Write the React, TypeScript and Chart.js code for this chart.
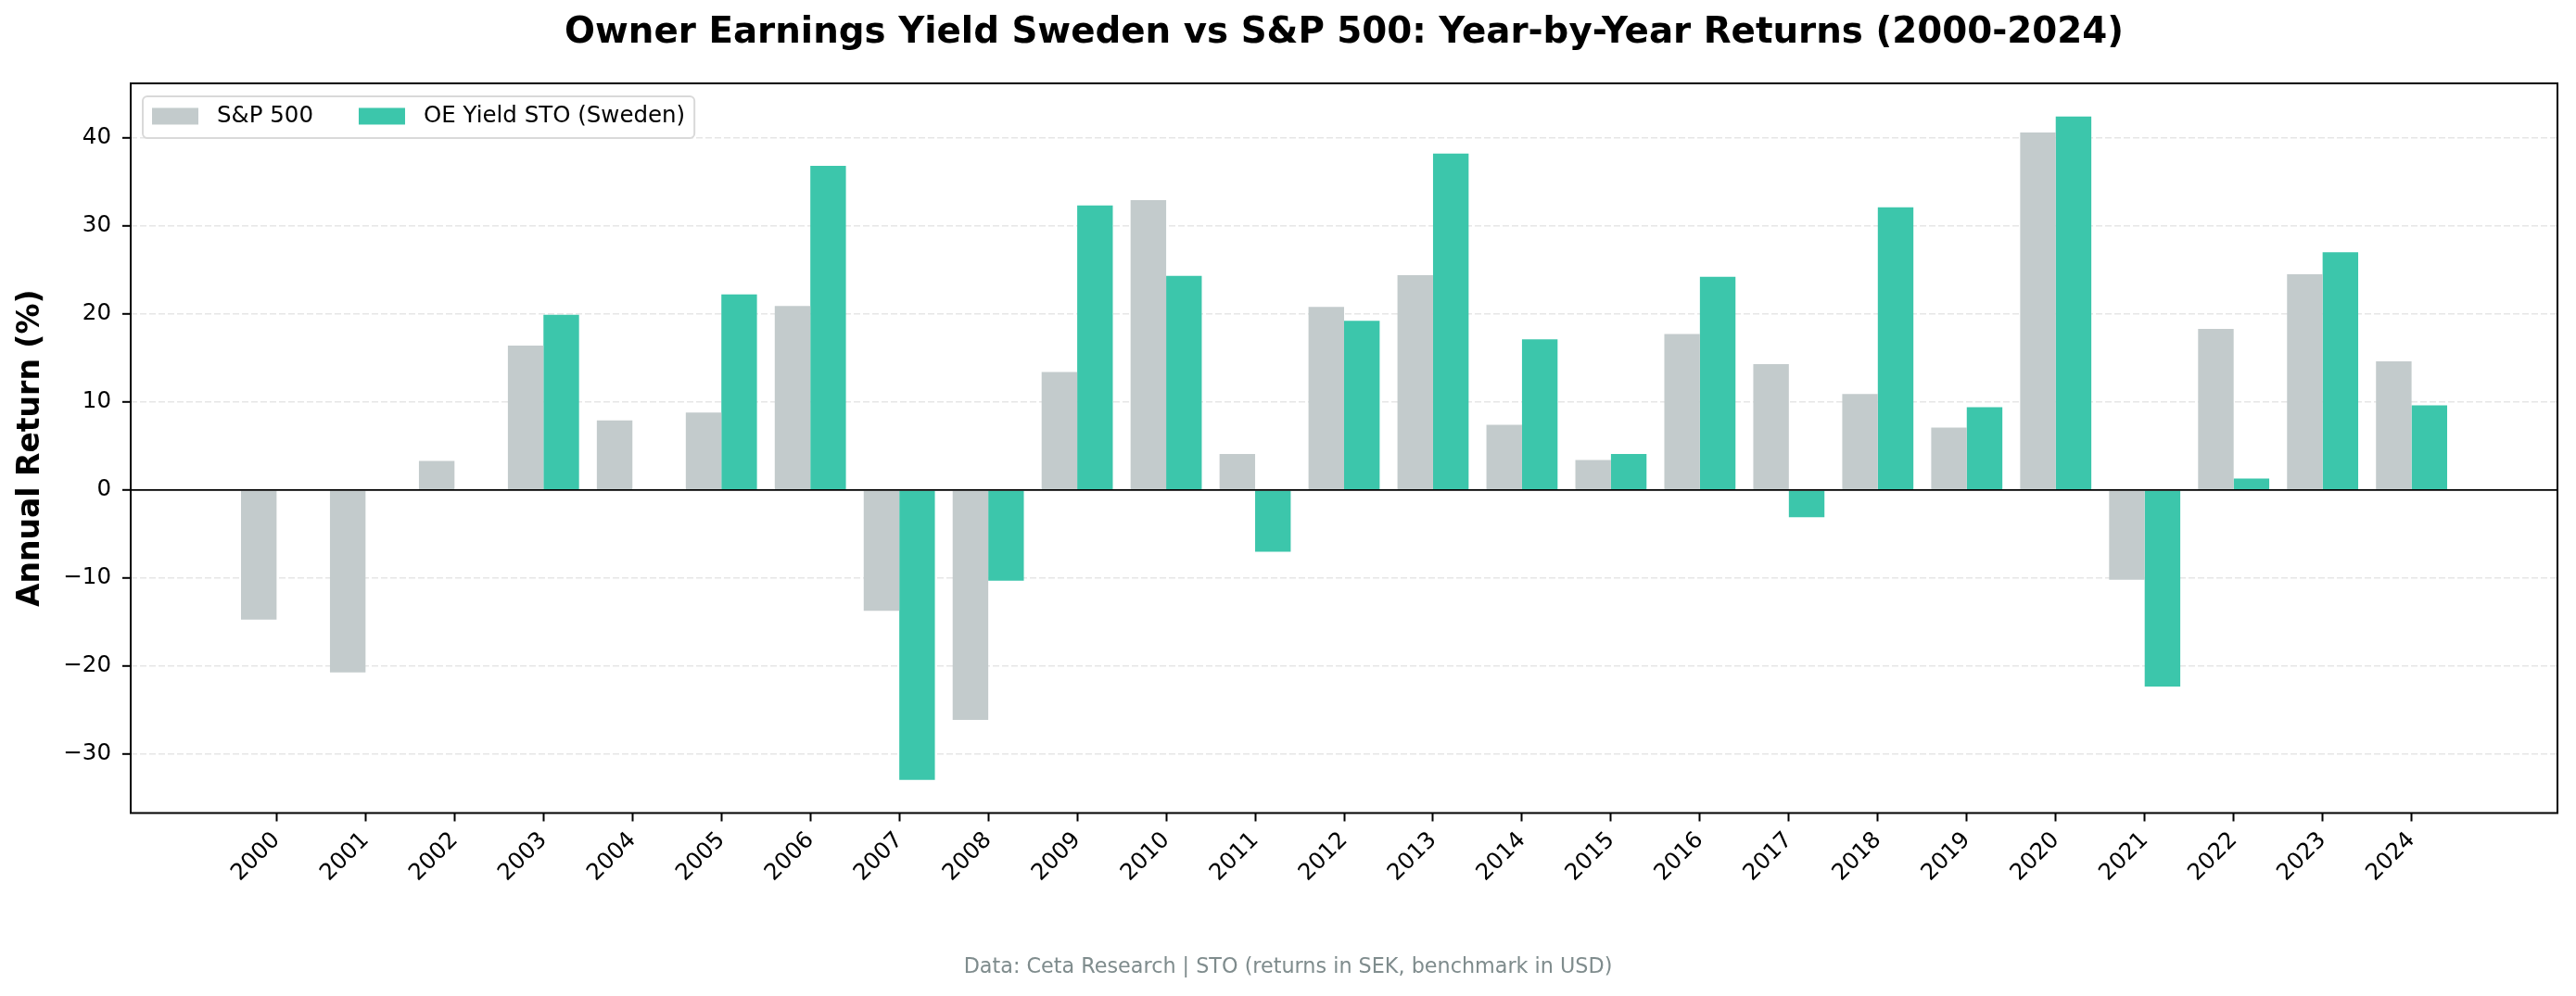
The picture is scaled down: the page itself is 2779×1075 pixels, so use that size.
import { useEffect, useRef } from 'react';
import { Chart, registerables } from 'chart.js';

Chart.register(...registerables);

const years = ['2000', '2001', '2002', '2003', '2004', '2005', '2006', '2007', '2008', '2009', '2010', '2011', '2012', '2013', '2014', '2015', '2016', '2017', '2018', '2019', '2020', '2021', '2022', '2023', '2024'];
const sp500 = [-14.7, -20.7, 3.3, 16.4, 7.9, 8.8, 20.9, -13.7, -26.1, 13.4, 32.9, 4.1, 20.8, 24.4, 7.4, 3.4, 17.7, 14.3, 10.9, 7.1, 40.6, -10.2, 18.3, 24.5, 14.6];
const oeYield = [null, null, null, 19.9, null, 22.2, 36.8, -32.9, -10.3, 32.3, 24.3, -7.0, 19.2, 38.2, 17.1, 4.1, 24.2, -3.1, 32.1, 9.4, 42.4, -22.3, 1.3, 27.0, 9.6];
const yTicks = [-30, -20, -10, 0, 10, 20, 30, 40];
const seriesLabels = ['S&P 500', 'OE Yield STO (Sweden)'];
const seriesColors = ['#c3cbcc', '#3cc6ab'];
const titleText = 'Owner Earnings Yield Sweden vs S&P 500: Year-by-Year Returns (2000-2024)';
const footerText = 'Data: Ceta Research | STO (returns in SEK, benchmark in USD)';
const yAxisLabel = 'Annual Return (%)';

const FONT = "'DejaVu Sans', sans-serif";

const framePlugin = {
  id: 'frameAndZero',
  afterDatasetsDraw(chart: any) {
    const { ctx, chartArea, scales } = chart;
    const y0 = scales.y.getPixelForValue(0);
    ctx.save();
    ctx.strokeStyle = '#000';
    ctx.lineWidth = 1.6;
    ctx.beginPath();
    ctx.moveTo(chartArea.left, y0);
    ctx.lineTo(chartArea.right, y0);
    ctx.stroke();
    ctx.lineWidth = 2;
    ctx.strokeRect(chartArea.left, chartArea.top, chartArea.right - chartArea.left, chartArea.bottom - chartArea.top);
    ctx.restore();
  },
};

const footerPlugin = {
  id: 'footerNote',
  afterDraw(chart: any) {
    const { ctx, width, height } = chart;
    ctx.save();
    ctx.font = `22.3px ${FONT}`;
    ctx.fillStyle = '#7f8c8d';
    ctx.textAlign = 'center';
    ctx.textBaseline = 'middle';
    ctx.fillText(footerText, width / 2, height - 31);
    ctx.restore();
  },
};

const legendPlugin = {
  id: 'insideLegend',
  afterDraw(chart: any) {
    const { ctx, chartArea } = chart;
    ctx.save();
    ctx.font = `24.5px ${FONT}`;
    const handleW = 50;
    const handleH = 18;
    const pad = 10;
    const textGap = 20;
    const colGap = 49;
    let w = pad * 2;
    seriesLabels.forEach((l, i) => {
      w += handleW + textGap + ctx.measureText(l).width;
      if (i < seriesLabels.length - 1) w += colGap;
    });
    const bx = chartArea.left + 13;
    const by = chartArea.top + 14;
    const bh = 45;
    const r = 5;
    ctx.beginPath();
    ctx.moveTo(bx + r, by);
    ctx.lineTo(bx + w - r, by);
    ctx.arcTo(bx + w, by, bx + w, by + r, r);
    ctx.lineTo(bx + w, by + bh - r);
    ctx.arcTo(bx + w, by + bh, bx + w - r, by + bh, r);
    ctx.lineTo(bx + r, by + bh);
    ctx.arcTo(bx, by + bh, bx, by + bh - r, r);
    ctx.lineTo(bx, by + r);
    ctx.arcTo(bx, by, bx + r, by, r);
    ctx.closePath();
    ctx.fillStyle = 'rgba(255,255,255,0.85)';
    ctx.fill();
    ctx.strokeStyle = '#d9d9d9';
    ctx.lineWidth = 2;
    ctx.stroke();
    let x = bx + pad;
    const cy = by + bh / 2 - 1;
    seriesLabels.forEach((l, i) => {
      ctx.fillStyle = seriesColors[i];
      ctx.fillRect(x, cy - handleH / 2, handleW, handleH);
      x += handleW + textGap;
      ctx.fillStyle = '#000';
      ctx.textAlign = 'left';
      ctx.textBaseline = 'middle';
      ctx.fillText(l, x, cy);
      x += ctx.measureText(l).width + colGap;
    });
    ctx.restore();
  },
};

export default function App() {
  const canvasRef = useRef<HTMLCanvasElement | null>(null);

  useEffect(() => {
    document.body.style.margin = '0';
    const canvas = canvasRef.current;
    if (!canvas) return;
    const chart = new Chart(canvas, {
      type: 'bar',
      data: {
        datasets: [
          {
            label: seriesLabels[0],
            data: sp500.map((v, i) => ({ x: i, y: v })),
            backgroundColor: seriesColors[0],
            borderWidth: 0,
            categoryPercentage: 0.8,
            barPercentage: 1.0,
          },
          {
            label: seriesLabels[1],
            data: oeYield.map((v, i) => ({ x: i, y: v })),
            backgroundColor: seriesColors[1],
            borderWidth: 0,
            categoryPercentage: 0.8,
            barPercentage: 1.0,
          },
        ],
      },
      options: {
        animation: false,
        responsive: true,
        maintainAspectRatio: false,
        layout: { padding: { top: 0, left: 0, right: 20, bottom: 82.5 } },
        plugins: {
          legend: { display: false },
          tooltip: { enabled: false },
          title: {
            display: true,
            text: titleText,
            color: '#000',
            fullSize: false,
            font: { family: FONT, size: 38.8, weight: 'bold' },
            padding: { top: 12.7, bottom: 30.7 },
          },
        },
        scales: {
          x: {
            type: 'linear',
            min: -1.64,
            max: 25.64,
            offset: false,
            afterBuildTicks: (scale: any) => {
              scale.ticks = years.map((_, i) => ({ value: i }));
            },
            afterFit: (scale: any) => {
              scale.height = 115;
            },
            grid: {
              offset: false,
              drawOnChartArea: false,
              drawTicks: true,
              tickLength: 9,
              tickColor: '#000',
              tickWidth: 2,
            },
            border: { display: false },
            ticks: {
              autoSkip: false,
              minRotation: 45,
              maxRotation: 45,
              padding: 6,
              color: '#000',
              font: { family: FONT, size: 24.5 },
              callback: (value: any) => years[Math.round(Number(value))] ?? '',
            },
          },
          y: {
            type: 'linear',
            min: -36.67,
            max: 46.17,
            afterBuildTicks: (scale: any) => {
              scale.ticks = yTicks.map((v) => ({ value: v }));
            },
            afterFit: (scale: any) => {
              scale.width = 141;
            },
            grid: {
              color: (ctx: any) => (ctx.tick && ctx.tick.value === 0 ? 'rgba(0,0,0,0)' : '#e6e6e6'),
              lineWidth: 1.6,
              drawTicks: true,
              tickLength: 9,
              tickColor: '#000',
              tickWidth: 2,
            },
            border: { display: false, dash: [7, 3] },
            ticks: {
              padding: 12,
              color: '#000',
              font: { family: FONT, size: 24.5 },
              callback: (value: any) => (Number(value) < 0 ? '\u2212' + Math.abs(Number(value)) : String(value)),
            },
            title: {
              display: true,
              text: yAxisLabel,
              color: '#000',
              font: { family: FONT, size: 33, weight: 'bold' },
              padding: { top: 14, bottom: 0 },
            },
          },
        },
      },
      plugins: [framePlugin, legendPlugin, footerPlugin],
    } as any);
    return () => chart.destroy();
  }, []);

  return (
    <div style={{ position: 'relative', width: '2779px', height: '1075px' }}>
      <canvas ref={canvasRef} />
    </div>
  );
}
